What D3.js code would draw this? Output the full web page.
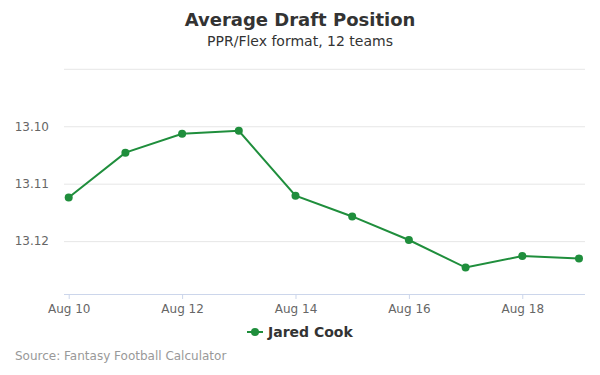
<!DOCTYPE html>
<html>
<head>
<meta charset="utf-8">
<script src="https://cdn.jsdelivr.net/npm/d3@7"></script>
<style>
  body { margin: 0; background: #fff; }
  svg { font-family: "DejaVu Sans", sans-serif; }
</style>
</head>
<body>
<div id="chart"></div>
<script>
// data
const days = [10, 11, 12, 13, 14, 15, 16, 17, 18, 19];
const adp = [13.1124, 13.1046, 13.1013, 13.1008, 13.1121, 13.1157, 13.1198, 13.1246, 13.1226, 13.1230];
const yTicks = [13.09, 13.10, 13.11, 13.12];
const xTicks = [10, 12, 14, 16, 18];
const seriesName = "Jared Cook";

const width = 600, height = 375;
const plotLeft = 64, plotRight = 585, plotTop = 68.8, plotBottom = 294;
const green = "#1f8e3c";

const svg = d3.select("#chart")
    .append("svg")
    .attr("width", width)
    .attr("height", height);

// Scales (y reversed, lower pick on top)
const x = d3.scaleLinear()
    .domain([9.917, 19.106])
    .range([plotLeft, plotRight]);

const y = d3.scaleLinear()
    .domain([13.09, 13.1292])
    .range([plotTop, plotBottom]);

// Titles
svg.append("text")
    .attr("x", 300).attr("y", 26)
    .attr("text-anchor", "middle")
    .attr("font-size", 18).attr("font-weight", "bold")
    .attr("fill", "#333333")
    .text("Average Draft Position");

svg.append("text")
    .attr("x", 300).attr("y", 46)
    .attr("text-anchor", "middle")
    .attr("font-size", 14)
    .attr("fill", "#333333")
    .text("PPR/Flex format, 12 teams");

// Gridlines + y labels
const yAxis = svg.append("g")
    .attr("transform", `translate(${plotLeft},0)`)
    .call(d3.axisLeft(y)
        .tickValues(yTicks)
        .tickSize(-(plotRight - plotLeft))
        .tickPadding(15)
        .tickFormat(d => d === 13.09 ? "" : d.toFixed(2)));
yAxis.select(".domain").remove();
yAxis.selectAll(".tick line").attr("stroke", "#e6e6e6");
yAxis.selectAll(".tick text")
    .attr("fill", "#666666")
    .attr("font-size", 12)
    .attr("font-family", "DejaVu Sans, sans-serif");

// x axis
const xAxis = svg.append("g")
    .attr("transform", `translate(0,${plotBottom})`)
    .call(d3.axisBottom(x)
        .tickValues(xTicks)
        .tickSize(5)
        .tickPadding(5)
        .tickFormat(d => "Aug " + d));
xAxis.select(".domain")
    .attr("d", `M${plotLeft},0.5H${plotRight}`)
    .attr("stroke", "#ccd6eb");
xAxis.selectAll(".tick line").attr("stroke", "#ccd6eb");
xAxis.selectAll(".tick text")
    .attr("fill", "#666666")
    .attr("font-size", 12)
    .attr("font-family", "DejaVu Sans, sans-serif");

// Line
const line = d3.line()
    .x((d, i) => x(days[i]))
    .y(d => y(d));

svg.append("path")
    .datum(adp)
    .attr("fill", "none")
    .attr("stroke", green)
    .attr("stroke-width", 2)
    .attr("d", line);

svg.selectAll("circle.pt")
    .data(adp)
    .enter()
    .append("circle")
    .attr("class", "pt")
    .attr("cx", (d, i) => x(days[i]))
    .attr("cy", d => y(d))
    .attr("r", 4)
    .attr("fill", green);

// Legend
const lg = svg.append("g").attr("transform", "translate(247,332)");
lg.append("line")
    .attr("x1", 0).attr("x2", 16)
    .attr("stroke", green).attr("stroke-width", 2);
lg.append("circle")
    .attr("cx", 8).attr("r", 4)
    .attr("fill", green);
lg.append("text")
    .attr("x", 21).attr("y", 5)
    .attr("font-size", 14).attr("font-weight", "bold")
    .attr("fill", "#333333")
    .text(seriesName);

// Credits
svg.append("text")
    .attr("x", 15).attr("y", 360)
    .attr("font-size", 12)
    .attr("fill", "#999999")
    .text("Source: Fantasy Football Calculator");
</script>
</body>
</html>
